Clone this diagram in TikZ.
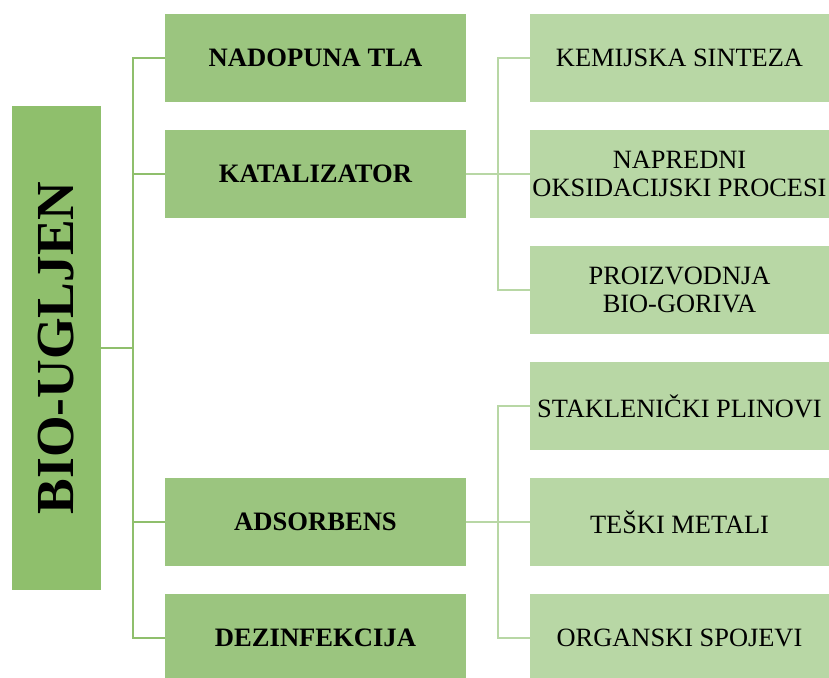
\documentclass[tikz,border=0pt]{standalone}
\usepackage{fontspec}
\setmainfont{Liberation Serif}
\usepackage{tikz}

\definecolor{rootgreen}{HTML}{8FBF6C}
\definecolor{midgreen}{HTML}{9BC57F}
\definecolor{leafgreen}{HTML}{B8D7A5}

\begin{document}
\begin{tikzpicture}[x=1pt, y=-1pt,
	rootbox/.style={fill=rootgreen, minimum width=89pt, minimum height=484pt, inner sep=0pt},
	midbox/.style={fill=midgreen, minimum width=301pt, minimum height=88pt, inner sep=0pt, font=\fontsize{26.6}{29}\selectfont\bfseries},
	leafbox/.style={fill=leafgreen, minimum width=299pt, minimum height=88pt, inner sep=0pt, align=center, font=\fontsize{26.4}{28}\selectfont},
	trunk/.style={draw=rootgreen, line width=2.4pt},
	twig/.style={draw=leafgreen, line width=2.4pt}]

	\useasboundingbox (0,0) rectangle (829,677);

	% root
	\node[rootbox] (bio) at (56.5,348) {};
	\node[rotate=90, font=\fontsize{53.5}{56}\selectfont\bfseries] (biotext) at (bio.center) {BIO-UGLJEN};

	% first level
	\node[midbox] (nadopuna) at (315.5,58) {NADOPUNA TLA};
	\node[midbox] (katalizator) at (315.5,174) {KATALIZATOR};
	\node[midbox] (adsorbens) at (315.5,522) {ADSORBENS};
	\node[midbox] (dezinfekcija) at (315.5,638) {DEZINFEKCIJA};

	% second level
	\node[leafbox] (kemijska) at (679.5,58) {KEMIJSKA SINTEZA};
	\node[leafbox] (napredni) at (679.5,174) {NAPREDNI\\OKSIDACIJSKI PROCESI};
	\node[leafbox] (proizvodnja) at (679.5,290) {PROIZVODNJA\\BIO-GORIVA};
	\node[leafbox] (staklenicki) at (679.5,406) {STAKLENIČKI PLINOVI};
	\node[leafbox] (teski) at (679.5,522) {TEŠKI METALI};
	\node[leafbox] (organski) at (679.5,638) {ORGANSKI SPOJEVI};

	% connectors
	\draw[trunk] (bio.east) -- ++(32,0);
	\draw[trunk] (nadopuna.west) -- ++(-32,0) |- (dezinfekcija.west);
	\draw[trunk] (katalizator.west) -- ++(-32,0);
	\draw[trunk] (adsorbens.west) -- ++(-32,0);

	\draw[twig] (katalizator.east) -- (napredni.west);
	\draw[twig] (kemijska.west) -- ++(-32,0) |- (proizvodnja.west);
	\draw[twig] (adsorbens.east) -- (teski.west);
	\draw[twig] (staklenicki.west) -- ++(-32,0) |- (organski.west);

\end{tikzpicture}
\end{document}
